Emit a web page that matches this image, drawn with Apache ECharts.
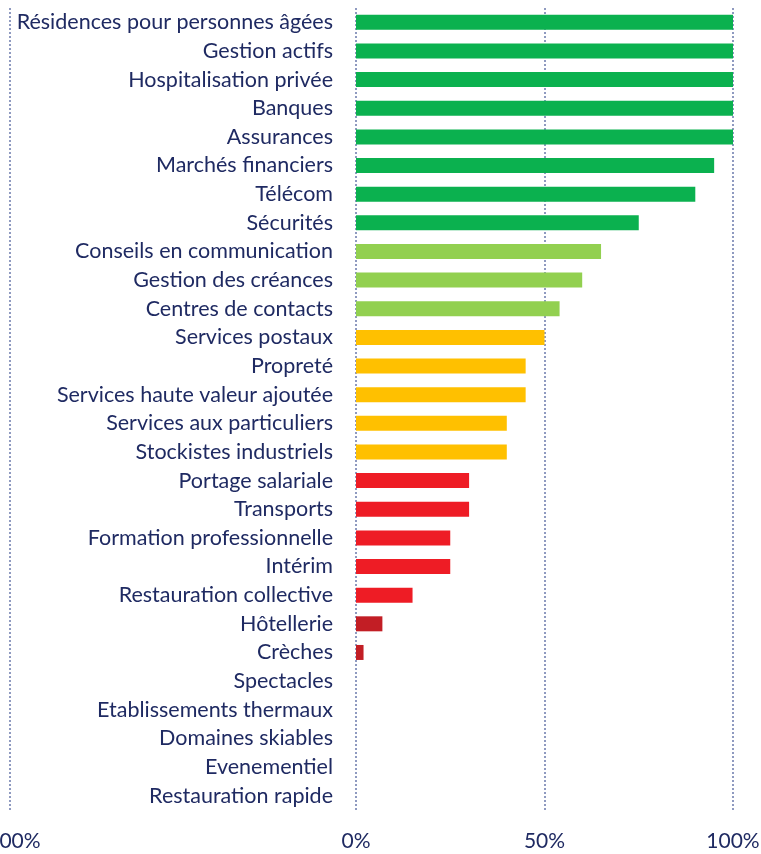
<!DOCTYPE html>
<html>
<head>
<meta charset="utf-8">
<script src="https://cdn.jsdelivr.net/npm/echarts@6/dist/echarts.min.js"></script>
<style>
  html, body { margin: 0; padding: 0; background: #fff; }
  #chart { width: 761px; height: 854px; }
</style>
</head>
<body>
<div id="chart"></div>
<script>
const categories = [
  'Résidences pour personnes âgées', 'Gestion actifs', 'Hospitalisation privée', 'Banques',
  'Assurances', 'Marchés financiers', 'Télécom', 'Sécurités', 'Conseils en communication',
  'Gestion des créances', 'Centres de contacts', 'Services postaux', 'Propreté',
  'Services haute valeur ajoutée', 'Services aux particuliers', 'Stockistes industriels',
  'Portage salariale', 'Transports', 'Formation professionnelle', 'Intérim',
  'Restauration collective', 'Hôtellerie', 'Crèches', 'Spectacles',
  'Etablissements thermaux', 'Domaines skiables', 'Evenementiel', 'Restauration rapide'
];
const values = [100, 100, 100, 100, 100, 95, 90, 75, 65, 60, 54, 50, 45, 45, 40, 40,
  30, 30, 25, 25, 15, 7, 2, 0, 0, 0, 0, 0];
// level of each sector (0 = best ... 4 = worst)
const levels = [0, 0, 0, 0, 0, 0, 0, 0, 1, 1, 1, 2, 2, 2, 2, 2, 3, 3, 3, 3, 3, 4, 4, 4, 4, 4, 4, 4];
const levelColors = ['#0BB14F', '#92D050', '#FFC000', '#EE1C25', '#C21E25'];

const textColor = '#1F2A62';
const font = 'Lato';
const gridLine = { show: true, lineStyle: { color: '#8F9AC0', type: [2, 2], width: 2 } };

const chart = echarts.init(document.getElementById('chart'));

chart.setOption({
  animation: false,
  grid: [
    { left: 10, width: 346, top: 8, bottom: 44, outerBoundsMode: 'none' },
    { left: 356, right: 28, top: 8, bottom: 44, outerBoundsMode: 'none' }
  ],
  xAxis: [
    {
      gridIndex: 0, type: 'value', min: -100, max: 0, interval: 100,
      axisLine: { show: false }, axisTick: { show: false },
      splitLine: gridLine,
      axisLabel: {
        margin: 21, color: textColor, fontSize: 21, fontFamily: font,
        formatter: v => (v === -100 ? '-100%' : '')
      }
    },
    {
      gridIndex: 1, type: 'value', min: 0, max: 100, interval: 50,
      axisLine: { show: false }, axisTick: { show: false },
      splitLine: gridLine,
      axisLabel: {
        margin: 21, color: textColor, fontSize: 21, fontFamily: font,
        formatter: v => v + '%'
      }
    }
  ],
  yAxis: [
    {
      gridIndex: 0, type: 'category', data: categories, inverse: true,
      show: false
    },
    {
      gridIndex: 1, type: 'category', data: categories, inverse: true,
      axisLine: { show: false }, axisTick: { show: false },
      axisLabel: { margin: 23, color: textColor, fontSize: 21.5, fontFamily: font }
    }
  ],
  series: [
    {
      type: 'bar',
      xAxisIndex: 1,
      yAxisIndex: 1,
      barWidth: 15,
      data: values.map((v, i) => ({
        value: v,
        itemStyle: { color: levelColors[levels[i]] }
      }))
    }
  ]
});
</script>
</body>
</html>
